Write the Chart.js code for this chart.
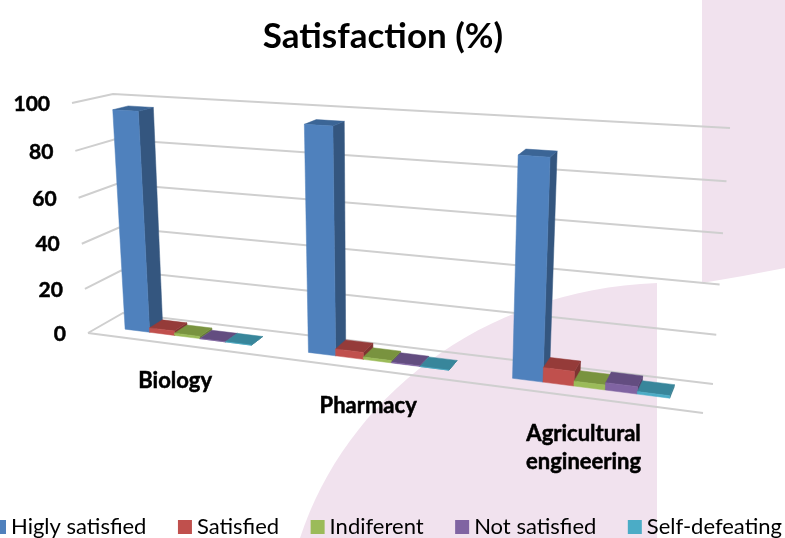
<!DOCTYPE html>
<html>
<head>
<meta charset="utf-8">
<title>Satisfaction (%)</title>
<script src="https://cdn.jsdelivr.net/npm/chart.js@4"></script>
<style>
  html, body { margin: 0; padding: 0; background: #fff; overflow: hidden; }
  canvas { display: block; }
</style>
</head>
<body>
<canvas id="chart" width="785" height="538"></canvas>
<script>
const categories = ['Biology', 'Pharmacy', ['Agricultural', 'engineering']];
const higlySatisfied = [96.5, 95.5, 89];
const satisfied = [2, 3, 6];
const indiferent = [1, 1, 2];
const notSatisfied = [0, 0.3, 3];
const selfDefeating = [0, 0, 1];

const seriesNames = ['Higly satisfied', 'Satisfied', 'Indiferent', 'Not satisfied', 'Self-defeating'];
const seriesValues = [higlySatisfied, satisfied, indiferent, notSatisfied, selfDefeating];
// front, top, side
const seriesColors = [
  ['#4f81bd', '#3b6596', '#34567f'],
  ['#c0504d', '#953b39', '#7f3331'],
  ['#9bbb59', '#79933f', '#667d36'],
  ['#8064a2', '#634d80', '#54416d'],
  ['#4bacc6', '#38869b', '#2f7385']
];

// corners of the 3d box on screen: bottom-left, bottom-right, top-right, top-left
const frontQuad = [[88, 333], [703, 413], [721, 144], [72, 103]];
const backQuad = [[123, 313], [713, 384], [730, 128], [113, 94]];
const barFront = 0.35, barBack = 0.74, barShift = -0.002;

const FONT = 'Lato, "Open Sans", sans-serif';

// unit square -> quad homography
function homography(q) {
  const [[x0, y0], [x1, y1], [x2, y2], [x3, y3]] = q;
  const dx1 = x1 - x2, dx2 = x3 - x2, sx = x0 - x1 + x2 - x3;
  const dy1 = y1 - y2, dy2 = y3 - y2, sy = y0 - y1 + y2 - y3;
  const den = dx1 * dy2 - dx2 * dy1;
  const g = (sx * dy2 - dx2 * sy) / den;
  const h = (dx1 * sy - sx * dy1) / den;
  const a = x1 - x0 + g * x1, b = x3 - x0 + h * x3;
  const d = y1 - y0 + g * y1, e = y3 - y0 + h * y3;
  return (u, v) => {
    const w = g * u + h * v + 1;
    return [(a * u + b * v + x0) / w, (d * u + e * v + y0) / w];
  };
}
const front = homography(frontQuad);
const back = homography(backQuad);

// u along categories, v up the values, d into the depth (0 front, 1 back)
function project(u, v, d) {
  const f = front(u, v), b = back(u, v);
  return [f[0] + (b[0] - f[0]) * d, f[1] + (b[1] - f[1]) * d];
}

function poly(ctx, pts, fill) {
  ctx.beginPath();
  pts.forEach((p, i) => i ? ctx.lineTo(p[0], p[1]) : ctx.moveTo(p[0], p[1]));
  ctx.closePath();
  ctx.fillStyle = fill;
  ctx.fill();
  ctx.strokeStyle = fill;
  ctx.lineWidth = 0.5;
  ctx.stroke();
}

const perspective = {
  id: 'perspective',
  beforeDraw(chart) {
    // pink slide background
    const ctx = chart.ctx;
    ctx.save();
    ctx.fillStyle = '#f1e2ee';
    ctx.beginPath();
    ctx.moveTo(702, 0);
    ctx.lineTo(785, 0);
    ctx.lineTo(785, 268);
    ctx.quadraticCurveTo(745, 276, 702, 283);
    ctx.closePath();
    ctx.fill();
    ctx.beginPath();
    ctx.moveTo(300, 538);
    ctx.bezierCurveTo(345, 400, 480, 290, 657, 283);
    ctx.lineTo(657, 538);
    ctx.closePath();
    ctx.fill();
    ctx.restore();
  },
  beforeDatasetsDraw(chart) {
    const ctx = chart.ctx, yScale = chart.scales.y, area = chart.chartArea;
    ctx.save();
    ctx.strokeStyle = '#cfcfcf';
    ctx.lineWidth = 2;
    yScale.ticks.forEach(t => {
      const v = (area.bottom - yScale.getPixelForValue(t.value)) / (area.bottom - area.top);
      const a = project(0, v, 0), b = project(0, v, 1), c = project(1, v, 1);
      ctx.beginPath();
      ctx.moveTo(a[0], a[1]);
      ctx.lineTo(b[0], b[1]);
      ctx.lineTo(c[0], c[1]);
      ctx.stroke();
      ctx.fillStyle = '#000';
      ctx.strokeStyle = '#000';
      ctx.lineWidth = 0.5;
      ctx.font = 'bold 21px ' + FONT;
      ctx.textAlign = 'right';
      ctx.textBaseline = 'middle';
      ctx.fillText(t.label, a[0] - 22, a[1] + 1);
      ctx.strokeText(t.label, a[0] - 22, a[1] + 1);
      ctx.strokeStyle = '#cfcfcf';
      ctx.lineWidth = 2;
    });
    // floor front edge
    const p = project(0, 0, 0), q = project(1, 0, 0);
    ctx.beginPath();
    ctx.moveTo(p[0], p[1]);
    ctx.lineTo(q[0], q[1]);
    ctx.stroke();
    ctx.restore();
  },
  beforeDatasetDraw() {
    return false;
  },
  afterDatasetsDraw(chart) {
    const ctx = chart.ctx, area = chart.chartArea;
    const w = area.right - area.left, h = area.bottom - area.top;
    ctx.save();
    categories.forEach((c, i) => {
      chart.data.datasets.forEach((ds, s) => {
        const bar = chart.getDatasetMeta(s).data[i];
        const u0 = (bar.x - bar.width / 2 - area.left) / w + barShift;
        const u1 = (bar.x + bar.width / 2 - area.left) / w + barShift;
        const top = (area.bottom - bar.y) / h, base = (area.bottom - bar.base) / h;
        const col = seriesColors[s];
        poly(ctx, [project(u1, base, barFront), project(u1, base, barBack), project(u1, top, barBack), project(u1, top, barFront)], col[2]);
        poly(ctx, [project(u0, top, barFront), project(u1, top, barFront), project(u1, top, barBack), project(u0, top, barBack)], col[1]);
        poly(ctx, [project(u0, base, barFront), project(u1, base, barFront), project(u1, top, barFront), project(u0, top, barFront)], col[0]);
      });
    });
    ctx.restore();
  },
  afterDraw(chart) {
    const ctx = chart.ctx, xScale = chart.scales.x, area = chart.chartArea;
    ctx.save();
    // category labels below the floor edge
    ctx.fillStyle = '#000';
    ctx.strokeStyle = '#000';
    ctx.lineWidth = 0.5;
    ctx.font = 'bold 22px ' + FONT;
    ctx.textAlign = 'center';
    ctx.textBaseline = 'middle';
    xScale.ticks.forEach((t, i) => {
      const u = (xScale.getPixelForTick(i) - area.left) / (area.right - area.left);
      const p = project(u, 0, 0);
      const lines = [].concat(t.label);
      lines.forEach((l, n) => {
        ctx.fillText(l, p[0] - 2, p[1] + 36 + n * 28);
        ctx.strokeText(l, p[0] - 2, p[1] + 36 + n * 28);
      });
    });
    // legend, slightly wider than the page like the reference
    ctx.font = '22px ' + FONT;
    ctx.textAlign = 'left';
    let x = -8;
    chart.data.datasets.forEach((ds, s) => {
      ctx.fillStyle = seriesColors[s][0];
      ctx.fillRect(x, 520, 14, 14);
      ctx.fillStyle = '#000';
      ctx.fillText(ds.label, x + 19, 527);
      x += 19 + ctx.measureText(ds.label).width + 31.5;
    });
    ctx.restore();
  }
};

new Chart(document.getElementById('chart'), {
  type: 'bar',
  data: {
    labels: categories,
    datasets: seriesNames.map((name, s) => ({
      label: name,
      data: seriesValues[s],
      backgroundColor: seriesColors[s][0]
    }))
  },
  options: {
    responsive: false,
    animation: false,
    layout: { padding: { bottom: 100, left: 86, right: 113 } },
    datasets: { bar: { categoryPercentage: 0.7, barPercentage: 1 } },
    plugins: {
      legend: { display: false },
      tooltip: { enabled: false },
      title: {
        display: true,
        fullSize: false,
        text: 'Satisfaction (%)',
        color: '#000',
        font: { family: FONT, size: 35, weight: 'bold' },
        padding: { top: 16, bottom: 20 }
      }
    },
    scales: {
      x: { grid: { display: false }, border: { display: false }, ticks: { display: false, autoSkip: false } },
      y: {
        min: 0, max: 100,
        grid: { display: false }, border: { display: false },
        ticks: { display: false, stepSize: 20 }
      }
    }
  },
  plugins: [perspective]
});
</script>
</body>
</html>
